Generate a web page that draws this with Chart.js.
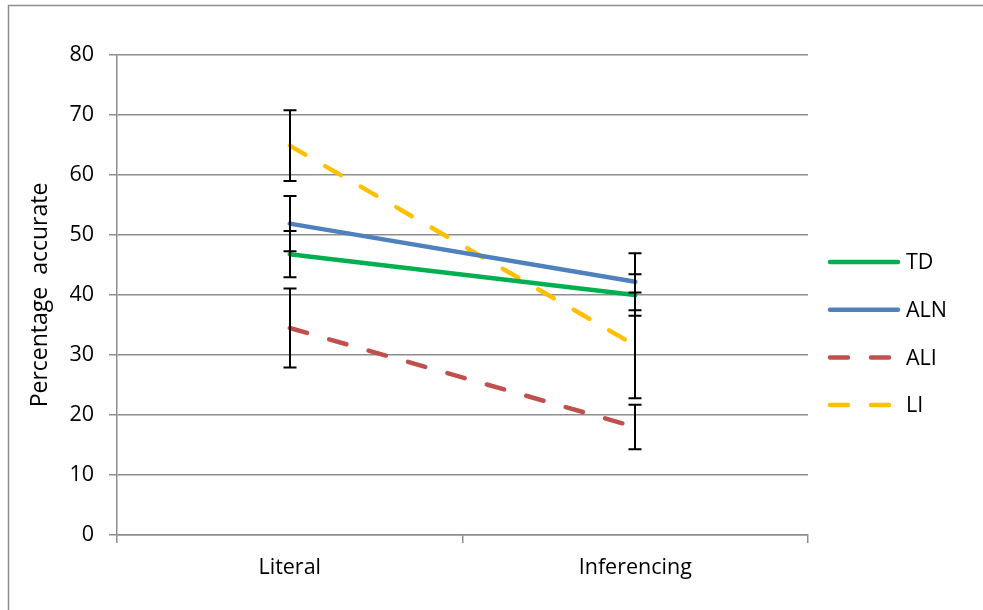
<!DOCTYPE html>
<html>
<head>
<meta charset="utf-8">
<title>Percentage accurate by question type</title>
<script src="https://cdn.jsdelivr.net/npm/chart.js@4.4.1/dist/chart.umd.min.js"></script>
<style>
  html, body { margin: 0; padding: 0; background: #ffffff; }
  #wrap { position: relative; width: 983px; height: 610px; }
</style>
</head>
<body>
<div id="wrap"><canvas id="chart" width="983" height="610"></canvas></div>
<script>
// Question types on the x axis
const categories = ['Literal', 'Inferencing'];

// Group names
const seriesNames = ['TD', 'ALN', 'ALI', 'LI'];

// Mean percentage accurate per group
const tdValues  = [46.8, 40.0];
const alnValues = [51.9, 42.2];
const aliValues = [34.5, 18.0];
const liValues  = [64.9, 31.6];

// Error bar half-lengths per group
const tdErrors  = [3.85, 3.45];
const alnErrors = [4.6, 4.75];
const aliErrors = [6.6, 3.7];
const liErrors  = [5.9, 8.8];

// Y axis range and step
const yMin = 0;
const yMax = 80;
const yStep = 10;

const FONT = "'Open Sans', 'Liberation Sans', sans-serif";
const TEXT_SIZE = 21.5;
const GRID = '#8e8e8e';

const seriesValues = [tdValues, alnValues, aliValues, liValues];
const seriesErrors = [tdErrors, alnErrors, aliErrors, liErrors];
const seriesColors = ['#00b050', '#4f81bd', '#c0504d', '#ffc000'];
const seriesDashes = [[], [], [18, 23], [18, 23]];

const datasets = seriesNames.map((name, i) => ({
  label: name,
  data: seriesValues[i],
  errors: seriesErrors[i],
  borderColor: seriesColors[i],
  backgroundColor: seriesColors[i],
  borderWidth: 4.5,
  borderDash: seriesDashes[i],
  borderCapStyle: 'round',
  borderJoinStyle: 'round',
  pointRadius: 0,
  pointHoverRadius: 0,
  tension: 0,
  fill: false
}));

// White background plus the frame on the left and top edges
const framePlugin = {
  id: 'frame',
  beforeDraw(chart) {
    const ctx = chart.ctx;
    ctx.save();
    ctx.fillStyle = '#ffffff';
    ctx.fillRect(0, 0, chart.width, chart.height);
    ctx.strokeStyle = GRID;
    ctx.lineWidth = 1.5;
    ctx.beginPath();
    ctx.moveTo(8.5, chart.height);
    ctx.lineTo(8.5, 5.5);
    ctx.lineTo(chart.width, 5.5);
    ctx.stroke();
    ctx.restore();
  }
};

// Vertical error bars with caps, drawn from each dataset's errors
const errorBarPlugin = {
  id: 'errorBars',
  afterDatasetsDraw(chart) {
    const ctx = chart.ctx;
    const xs = chart.scales.x;
    const ys = chart.scales.y;
    const cap = 6.5;
    ctx.save();
    ctx.strokeStyle = '#000000';
    ctx.lineWidth = 2;
    ctx.lineCap = 'butt';
    chart.data.datasets.forEach(ds => {
      ds.data.forEach((v, j) => {
        const e = ds.errors[j];
        const x = Math.round(xs.getPixelForValue(j));
        const yTop = ys.getPixelForValue(v + e);
        const yBot = ys.getPixelForValue(v - e);
        ctx.beginPath();
        ctx.moveTo(x, yTop);
        ctx.lineTo(x, yBot);
        ctx.moveTo(x - cap, yTop);
        ctx.lineTo(x + cap, yTop);
        ctx.moveTo(x - cap, yBot);
        ctx.lineTo(x + cap, yBot);
        ctx.stroke();
      });
    });
    ctx.restore();
  }
};

// Legend on the right: a line sample and the series name per row
const sideLegendPlugin = {
  id: 'sideLegend',
  afterDraw(chart) {
    const ctx = chart.ctx;
    const area = chart.chartArea;
    const x0 = area.right + 22;
    const lineLen = 68;
    const top = 262;
    const rowStep = 47.7;
    ctx.save();
    ctx.font = TEXT_SIZE + 'px ' + FONT;
    ctx.textBaseline = 'middle';
    ctx.textAlign = 'left';
    chart.data.datasets.forEach((ds, i) => {
      const y = top + i * rowStep;
      ctx.strokeStyle = ds.borderColor;
      ctx.lineWidth = ds.borderWidth;
      ctx.lineCap = 'round';
      ctx.setLineDash(ds.borderDash);
      ctx.beginPath();
      ctx.moveTo(x0, y);
      ctx.lineTo(x0 + lineLen, y);
      ctx.stroke();
      ctx.setLineDash([]);
      ctx.fillStyle = '#000000';
      ctx.fillText(ds.label, x0 + lineLen + 8, y + 1);
    });
    ctx.restore();
  }
};

new Chart(document.getElementById('chart'), {
  type: 'line',
  data: { labels: categories, datasets },
  plugins: [framePlugin, errorBarPlugin, sideLegendPlugin],
  options: {
    responsive: false,
    animation: false,
    devicePixelRatio: 1,
    layout: { padding: { left: 0, top: 55, right: 175, bottom: 0 } },
    plugins: {
      legend: { display: false },
      tooltip: { enabled: false },
      title: { display: false }
    },
    scales: {
      x: {
        type: 'category',
        offset: true,
        afterFit(scale) { scale.height = 75; },
        grid: {
          display: true,
          offset: true,
          drawOnChartArea: false,
          drawTicks: true,
          tickLength: 8,
          color: GRID,
          lineWidth: 1.5
        },
        border: { display: true, color: GRID, width: 1.5 },
        ticks: {
          color: '#000000',
          padding: 12,
          font: { family: FONT, size: TEXT_SIZE }
        }
      },
      y: {
        min: yMin,
        max: yMax,
        afterFit(scale) { scale.width = 117; },
        grid: {
          color: GRID,
          lineWidth: 1.5,
          drawTicks: true,
          tickLength: 8
        },
        border: { display: true, color: GRID, width: 1.5 },
        ticks: {
          stepSize: yStep,
          color: '#000000',
          padding: 15,
          font: { family: FONT, size: TEXT_SIZE }
        },
        title: {
          display: true,
          text: 'Percentage  accurate',
          color: '#000000',
          padding: { top: 27, bottom: 0 },
          font: { family: FONT, size: 23 }
        }
      }
    }
  }
});
</script>
</body>
</html>
